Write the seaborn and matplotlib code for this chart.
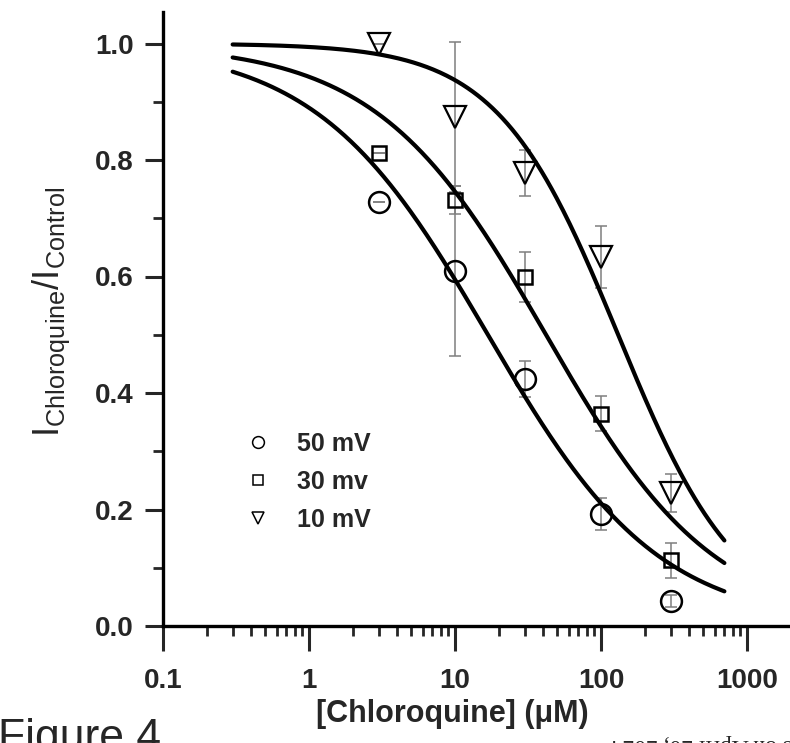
import numpy as np
import pandas as pd
import seaborn as sns
import matplotlib.pyplot as plt
from matplotlib.lines import Line2D

# chloroquine concentrations (uM)
conc = [3, 10, 30, 100, 300]

# normalised current I_chloroquine / I_control
resp_50 = [0.728, 0.609, 0.424, 0.192, 0.043]
err_50 = [0.0, 0.146, 0.031, 0.028, 0.010]
resp_30 = [0.812, 0.731, 0.599, 0.364, 0.113]
err_30 = [0.0, 0.024, 0.043, 0.030, 0.030]
resp_10 = [0.999, 0.874, 0.778, 0.633, 0.228]
err_10 = [0.0, 0.129, 0.040, 0.053, 0.033]

labels = ['50 mV', '30 mv', '10 mV']
markers = ['o', 's', 'v']

# Hill fit parameters
ic50 = [16.8, 42.0, 131.0]
hill_n = [0.74, 0.75, 1.05]
fit_range = [0.3, 700]


def set_style():
    sns.set_style('ticks')
    plt.rcParams['font.family'] = ['Liberation Sans', 'DejaVu Sans']
    plt.rcParams['mathtext.fontset'] = 'custom'
    plt.rcParams['mathtext.rm'] = 'Liberation Sans:normal'
    plt.rcParams['axes.linewidth'] = 2.4
    plt.rcParams['axes.edgecolor'] = 'black'


def main():
    set_style()
    fig = plt.figure(figsize=(7.9, 7.43), dpi=100)
    ax = fig.add_axes([163 / 790, 117 / 743, 627 / 790, 614.5 / 743])

    series = [(resp_50, err_50, 15, 1.8), (resp_30, err_30, 9.5, 1.8),
              (resp_10, err_10, 16, 1.6)]
    xs = np.logspace(np.log10(fit_range[0]), np.log10(fit_range[1]), 300)

    for i, (resp, err, ms, mew) in enumerate(series):
        ax.errorbar(conc, resp, yerr=err, fmt='none', ecolor='#7f7f7f',
                    elinewidth=1.1, capsize=4.3, capthick=1.1, zorder=2)
        fit = 1.0 / (1.0 + (xs / ic50[i]) ** hill_n[i])
        sns.lineplot(x=xs, y=fit, color='black', linewidth=3.0, ax=ax,
                     errorbar=None, zorder=3)
        sns.lineplot(x=conc, y=resp, color='black', marker=markers[i],
                     linestyle='none', markersize=ms, mfc='none', mec='black',
                     mew=mew, ax=ax, errorbar=None, zorder=4)

    ax.set_xscale('log')
    ax.set_xlim(0.1, 10 ** (-1 + 627 / 146))
    ax.set_ylim(0, 614.5 / 582.5)
    ax.set_yticks([0.0, 0.2, 0.4, 0.6, 0.8, 1.0])
    ax.set_yticks(np.arange(0.1, 1.0, 0.2), minor=True)
    ax.set_yticklabels([f'{v:.1f}' for v in [0.0, 0.2, 0.4, 0.6, 0.8, 1.0]])
    ax.set_xticks([0.1, 1, 10, 100, 1000])
    ax.set_xticklabels(['0.1', '1', '10', '100', '1000'])
    sns.despine(ax=ax)

    ax.tick_params(axis='x', which='major', length=18, width=2.2, pad=12.5,
                   labelsize=20)
    ax.tick_params(axis='x', which='minor', length=7, width=2.0)
    ax.tick_params(axis='y', which='major', length=13, width=2.2, pad=8,
                   labelsize=20)
    ax.tick_params(axis='y', which='minor', length=7, width=2.0)
    for lab in ax.get_xticklabels() + ax.get_yticklabels():
        lab.set_fontweight('bold')

    ax.set_xlabel('[Chloroquine] (\u03bcM)', fontsize=22, fontweight='bold')
    ax.xaxis.set_label_coords(0.461, -0.118)
    ax.set_ylabel(r'$\mathrm{I}_{\mathrm{Chloroquine}}/\mathrm{I}_{\mathrm{Control}}$',
                  fontsize=26)
    ax.yaxis.set_label_coords(-0.145, 0.511)

    handles = [
        Line2D([], [], marker='o', linestyle='none', markersize=8.5,
               mfc='none', mec='black', mew=1.1),
        Line2D([], [], marker='s', linestyle='none', markersize=7,
               mfc='none', mec='black', mew=1.1),
        Line2D([], [], marker='v', linestyle='none', markersize=8.5,
               mfc='none', mec='black', mew=1.1),
    ]
    ax.legend(handles, labels, loc='upper left',
              bbox_to_anchor=(0.1316, 0.3165), frameon=False,
              borderpad=0, borderaxespad=0, handlelength=1.0,
              handletextpad=1.06, labelspacing=0.57,
              prop={'size': 18, 'weight': 'bold'})

    fig.text(-0.003, -0.0094, 'Figure 4', fontsize=32, va='baseline',
             ha='left')
    fig.text(792 / 790, 1 - 734 / 743, 's on April 20, 2024', rotation=180,
             ha='right', va='top', family='Liberation Serif', fontsize=17)

    fig.savefig('out.png', dpi=100)
    plt.close(fig)


if __name__ == '__main__':
    main()
